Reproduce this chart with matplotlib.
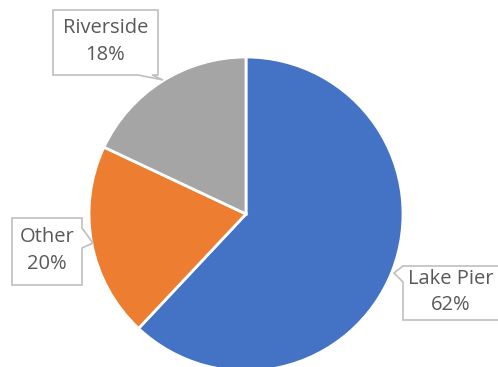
import matplotlib
matplotlib.use("Agg")
import matplotlib.pyplot as plt
from matplotlib.patches import Polygon

labels = ["Lake Pier", "Other", "Riverside"]
shares = [62, 20, 18]
colors = ["#4472C4", "#ED7D31", "#A5A5A5"]

# callout boxes in pixel units: (left, top, right, bottom), pointer side, pointer (a, b, tip)
callouts = {
    "Riverside": ((53, 10, 158, 75), "bottom", (138, 152), (163, 80)),
    "Other": ((12, 218, 82, 285), "right", (228, 248), (93, 243)),
    "Lake Pier": ((403, 266, 505, 320), "left", (266, 282), (394, 273)),
}

fig = plt.figure(figsize=(4.98, 3.67), dpi=100)
ax = fig.add_axes([0, 0, 1, 1])

ax.pie(shares, colors=colors, startangle=90, counterclock=False,
       radius=157, center=(246, -214),
       wedgeprops=dict(edgecolor="white", linewidth=2))

# pie() resets limits, so fix the pixel frame afterwards
ax.set_xlim(0, 498)
ax.set_ylim(-367, 0)
ax.set_aspect("equal")
ax.axis("off")


def box_path(rect, side, span, tip):
    l, t, r, b = rect
    a, c = span
    if side == "bottom":
        pts = [(l, t), (r, t), (r, b), (c, b), tip, (a, b), (l, b)]
    elif side == "right":
        pts = [(l, t), (r, t), (r, a), tip, (r, c), (r, b), (l, b)]
    else:
        pts = [(l, t), (r, t), (r, b), (l, b), (l, c), tip, (l, a)]
    return [(x, -y) for x, y in pts]


for name, share in zip(labels, shares):
    rect, side, span, tip = callouts[name]
    poly = Polygon(box_path(rect, side, span, tip), closed=True,
                   facecolor="white", edgecolor="#BFBFBF", linewidth=1.2,
                   zorder=5)
    ax.add_patch(poly)
    l, t, r, b = rect
    cx = (l + min(r, 498)) / 2
    cy = -(t + b) / 2 + 1
    ax.text(cx, cy, f"{name}\n{share}%", ha="center", va="center",
            fontsize=14.5, color="#595959", family="Open Sans",
            linespacing=1.45, zorder=6)

fig.savefig("out.png", dpi=100)
